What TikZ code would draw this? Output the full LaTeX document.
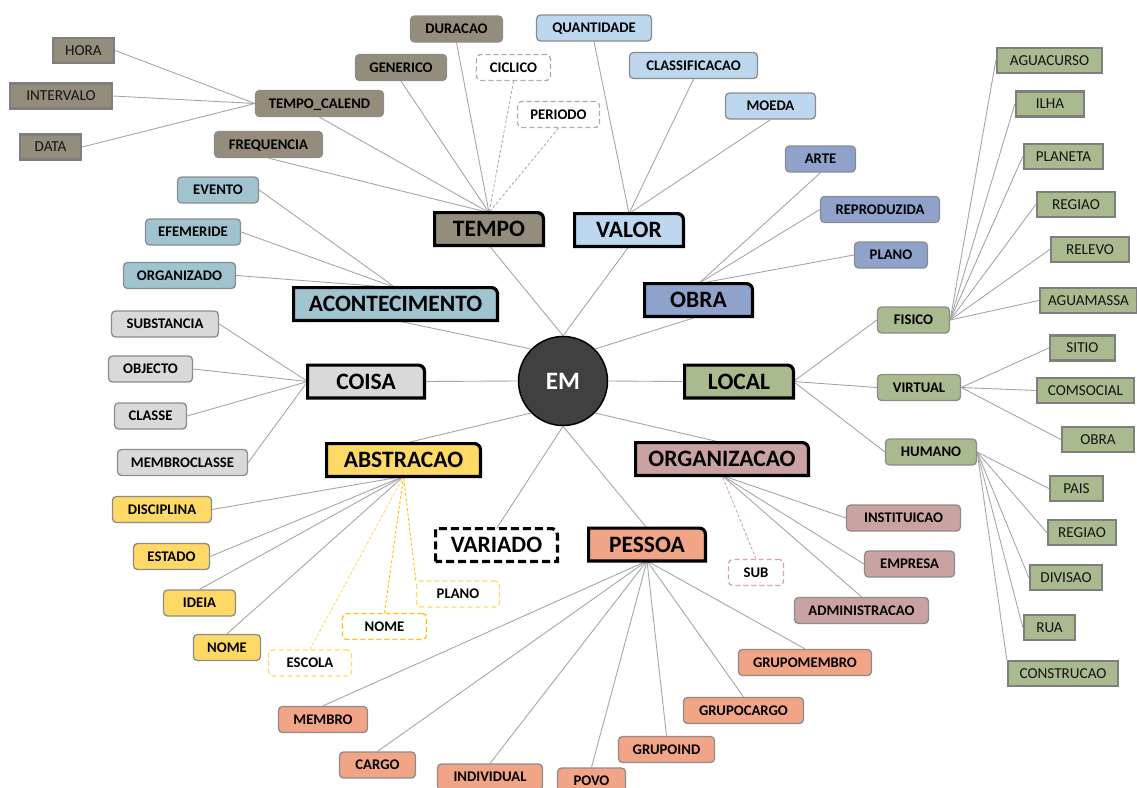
\documentclass[tikz,border=0pt]{standalone}
\usepackage{fontspec}
\setmainfont{Carlito}
\usetikzlibrary{backgrounds}

% category colours
\definecolor{tempoC}{HTML}{958D7B}
\definecolor{valorC}{HTML}{BDD7EE}
\definecolor{obraC}{HTML}{8FA2CC}
\definecolor{acontC}{HTML}{9FC4D0}
\definecolor{coisaC}{HTML}{D9D9D9}
\definecolor{abstrC}{HTML}{FFD966}
\definecolor{abstrD}{HTML}{FFC000}
\definecolor{pessoaC}{HTML}{F1A486}
\definecolor{organC}{HTML}{CAA2A2}
\definecolor{organD}{HTML}{D9A3A3}
\definecolor{localC}{HTML}{A9BA8F}
\definecolor{tempoD}{HTML}{B3AC98}
\definecolor{emC}{HTML}{404040}
\definecolor{linkC}{HTML}{A6A6A6}
\definecolor{subB}{HTML}{8C8C8C}
\definecolor{leafB}{HTML}{7F7F7F}

\tikzset{
  link/.style={draw=linkC, line width=0.9pt},
  optlink/.style={line width=0.9pt, dash pattern=on 3pt off 2pt},
  basebox/.style={inner sep=0pt, text=black, text height=9.3pt, text depth=0pt},
  sub/.style={basebox, rounded corners=4pt, draw=subB, line width=1.3pt,
    minimum height=26pt, font=\bfseries\fontsize{14.7}{16}\selectfont},
  leaf/.style={basebox, draw=leafB, line width=2.4pt, minimum height=25pt,
    font=\fontsize{15.2}{17}\selectfont, text=black!92},
  opt/.style={sub, fill=white, dash pattern=on 5pt off 3pt},
  cat/.style={inner sep=0pt, outer sep=0pt, minimum height=32.8pt,
    text height=15.1pt, text depth=0pt,
    font=\bfseries\fontsize{23.5}{26}\selectfont},
  catline/.style={draw=black, line width=3.2pt, line join=miter},
}

% box of a category: square corners except the rounded upper right one
\newcommand\catshape[2][]{%
  \draw[catline,#1] (#2.south west) -- (#2.north west)
    -- ([xshift=-6pt]#2.north east) arc[start angle=90,end angle=0,radius=6pt]
    -- (#2.south east) -- cycle;}

\begin{document}
\begin{tikzpicture}[x=1pt,y=1pt]
\useasboundingbox (0,0) rectangle (1137,-787);

% centre
\node[circle, fill=emC, draw=black, line width=1.5pt, minimum size=89pt,
  inner sep=0pt, text=white, font=\bfseries\fontsize{25}{28}\selectfont] (em) at (563,-381) {EM};

% categories
\node[cat, minimum width=108.8pt] (tempo)  at (489,-229)   {TEMPO};
\node[cat, minimum width=108.8pt] (valor)  at (629,-230)   {VALOR};
\node[cat, minimum width=107.8pt] (obra)   at (698.5,-300) {OBRA};
\node[cat, minimum width=203.8pt] (acont)  at (395.5,-304) {ACONTECIMENTO};
\node[cat, minimum width=116.8pt] (coisa)  at (366,-381.5) {COISA};
\node[cat, minimum width=108.8pt] (local)  at (739,-381.5) {LOCAL};
\node[cat, minimum width=153.8pt] (abstr)  at (403.5,-460) {ABSTRACAO};
\node[cat, minimum width=172.8pt] (organ)  at (722,-459)   {ORGANIZACAO};
\node[cat, minimum width=116.8pt] (pessoa) at (647,-544.5) {PESSOA};
\node[cat, minimum width=121.8pt] (variado) at (496.5,-545) {VARIADO};

% TEMPO
\node[leaf, fill=tempoC, minimum width=61pt]  (hora)      at (83.5,-50.5) {HORA};
\node[leaf, fill=tempoC, minimum width=102pt] (intervalo) at (61,-96)     {INTERVALO};
\node[leaf, fill=tempoC, minimum width=61pt]  (data)      at (50.5,-147)  {DATA};
\node[sub, fill=tempoC, minimum width=128pt] (tcal)  at (319.5,-103.5) {TEMPO\_CALEND};
\node[sub, fill=tempoC, minimum width=108pt] (freq)  at (268.5,-144.5) {FREQUENCIA};
\node[sub, fill=tempoC, minimum width=91pt]  (gener) at (401,-67.5)    {GENERICO};
\node[sub, fill=tempoC, minimum width=92pt]  (durac) at (456.5,-29)    {DURACAO};
\node[opt, draw=tempoD, minimum width=74pt]  (ciclico) at (513.5,-67.5) {CICLICO};
\node[opt, draw=tempoD, minimum width=82pt]  (periodo) at (558.5,-114.5) {PERIODO};

% VALOR
\node[sub, fill=valorC, minimum width=115pt] (quant)   at (594,-28)    {QUANTIDADE};
\node[sub, fill=valorC, minimum width=128pt] (classif) at (693.5,-65.5) {CLASSIFICACAO};
\node[sub, fill=valorC, minimum width=90pt]  (moeda)   at (770.5,-106) {MOEDA};

% OBRA
\node[sub, fill=obraC, minimum width=70pt]  (arte)   at (820.5,-159)  {ARTE};
\node[sub, fill=obraC, minimum width=119pt] (reprod) at (880,-209.5)  {REPRODUZIDA};
\node[sub, fill=obraC, minimum width=73pt]  (planoo) at (891,-255)    {PLANO};

% ACONTECIMENTO
\node[sub, fill=acontC, minimum width=81pt]  (evento)  at (218,-190)   {EVENTO};
\node[sub, fill=acontC, minimum width=95pt]  (efem)    at (193,-232)   {EFEMERIDE};
\node[sub, fill=acontC, minimum width=112pt] (organiz) at (179.5,-275.5) {ORGANIZADO};

% COISA
\node[sub, fill=coisaC, minimum width=107pt] (subst)    at (165,-324)   {SUBSTANCIA};
\node[sub, fill=coisaC, minimum width=84pt]  (objecto)  at (150.5,-369) {OBJECTO};
\node[sub, fill=coisaC, minimum width=72pt]  (classe)   at (150.5,-416) {CLASSE};
\node[sub, fill=coisaC, minimum width=130pt] (membrocl) at (182.5,-462.5) {MEMBROCLASSE};

% ABSTRACAO
\node[sub, fill=abstrC, minimum width=99pt] (discip) at (162,-509.5)  {DISCIPLINA};
\node[sub, fill=abstrC, minimum width=76pt] (estado) at (171.5,-556.5) {ESTADO};
\node[sub, fill=abstrC, minimum width=72pt] (ideia)  at (199.5,-603)  {IDEIA};
\node[sub, fill=abstrC, minimum width=67pt] (nomea)  at (227,-647.5)  {NOME};
\node[opt, draw=abstrC, minimum width=83pt] (escola) at (310,-663)    {ESCOLA};
\node[opt, draw=abstrD, minimum width=84pt] (nomeb)  at (384.5,-626.5) {NOME};
\node[opt, draw=abstrC, minimum width=83pt] (planoa) at (458,-594)    {PLANO};

% PESSOA
\node[sub, fill=pessoaC, minimum width=89pt]  (membro)   at (323,-719.5)   {MEMBRO};
\node[sub, fill=pessoaC, minimum width=76pt]  (cargo)    at (377.5,-765)   {CARGO};
\node[sub, fill=pessoaC, minimum width=105pt] (individ)  at (490,-777)     {INDIVIDUAL};
\node[sub, fill=pessoaC, minimum width=68pt]  (povo)     at (591.5,-781)   {POVO};
\node[sub, fill=pessoaC, minimum width=96pt]  (gind)     at (666.5,-749.5) {GRUPOIND};
\node[sub, fill=pessoaC, minimum width=120pt] (gcargo)   at (743.5,-710.5) {GRUPOCARGO};
\node[sub, fill=pessoaC, minimum width=133pt] (gmembro)  at (805,-662.5)   {GRUPOMEMBRO};

% ORGANIZACAO
\node[sub, fill=organC, minimum width=114pt] (instit)  at (903.5,-518)  {INSTITUICAO};
\node[sub, fill=organC, minimum width=90pt]  (empresa) at (909.5,-564)  {EMPRESA};
\node[sub, fill=organC, minimum width=134pt] (admin)   at (861.5,-610.5) {ADMINISTRACAO};
\node[opt, draw=organD, minimum width=55pt]  (subo)    at (756,-572.5)  {SUB};

% LOCAL
\node[sub, fill=localC, minimum width=72pt] (fisico)  at (913.5,-320)  {FISICO};
\node[sub, fill=localC, minimum width=83pt] (virtual) at (919,-387.5)  {VIRTUAL};
\node[sub, fill=localC, minimum width=91pt] (humano)  at (931,-452)    {HUMANO};
\node[leaf, fill=localC, minimum width=105pt] (aguac)   at (1049.5,-60.5) {AGUACURSO};
\node[leaf, fill=localC, minimum width=68pt]  (ilha)    at (1050,-104)    {ILHA};
\node[leaf, fill=localC, minimum width=79pt]  (planeta) at (1063.5,-156.5) {PLANETA};
\node[leaf, fill=localC, minimum width=78pt]  (regiaoa) at (1076,-204.5)  {REGIAO};
\node[leaf, fill=localC, minimum width=78pt]  (relevo)  at (1090,-249.5)  {RELEVO};
\node[leaf, fill=localC, minimum width=97pt]  (aguam)   at (1088.5,-300.5) {AGUAMASSA};
\node[leaf, fill=localC, minimum width=65pt]  (sitio)   at (1082.5,-348)  {SITIO};
\node[leaf, fill=localC, minimum width=97pt]  (comsoc)  at (1085.5,-390.5) {COMSOCIAL};
\node[leaf, fill=localC, minimum width=72pt]  (obral)   at (1098,-439.5)  {OBRA};
\node[leaf, fill=localC, minimum width=53pt]  (pais)    at (1076.5,-488.5) {PAIS};
\node[leaf, fill=localC, minimum width=68pt]  (regiaob) at (1082,-532.5)  {REGIAO};
\node[leaf, fill=localC, minimum width=72pt]  (divisao) at (1066,-577.5)  {DIVISAO};
\node[leaf, fill=localC, minimum width=51pt]  (rua)     at (1049.5,-627.5) {RUA};
\node[leaf, fill=localC, minimum width=110pt] (constr)  at (1063,-673.5)  {CONSTRUCAO};

\begin{scope}[on background layer]
  % centre to categories
  \draw[link] (tempo.south) -- (em.north);
  \draw[link] (valor.south) -- (em.north);
  \draw[link] (acont.south) -- (em.135);
  \draw[link] (obra.south) -- (em.45);
  \draw[link] (coisa.east) -- (em.west);
  \draw[link] (local.west) -- (em.east);
  \draw[link] (abstr.north) -- (em.225);
  \draw[link] (organ.north) -- (em.315);
  \draw[link] (variado.north) -- (em.south);
  \draw[link] (pessoa.north) -- (em.south);

  % TEMPO
  \draw[link] (hora.east) -- (tcal.west);
  \draw[link] (intervalo.east) -- (tcal.west);
  \draw[link] (data.east) -- (tcal.west);
  \foreach \n in {tcal,freq,gener,durac} \draw[link] (\n.south) -- (tempo.north);
  \draw[optlink, draw=tempoD] (ciclico.south) -- (tempo.north);
  \draw[optlink, draw=tempoD] (periodo.south) -- (tempo.north);

  % VALOR
  \foreach \n in {quant,classif,moeda} \draw[link] (\n.south) -- (valor.north);

  % OBRA
  \draw[link] (arte.south) -- (obra.north);
  \draw[link] (reprod.west) -- (obra.north);
  \draw[link] (planoo.west) -- (obra.north);

  % ACONTECIMENTO
  \foreach \n in {evento,efem,organiz} \draw[link] (\n.east) -- (acont.north);

  % COISA
  \foreach \n in {subst,objecto,classe,membrocl} \draw[link] (\n.east) -- (coisa.west);

  % ABSTRACAO
  \draw[link] (discip.east) -- (abstr.south);
  \draw[link] (estado.east) -- (abstr.south);
  \draw[link] (ideia.north) -- (abstr.south);
  \draw[link] (nomea.north) -- (abstr.south);
  \draw[optlink, draw=abstrC] (escola.north) -- (abstr.south);
  \draw[optlink, draw=abstrD] (nomeb.north) -- (abstr.south);
  \draw[optlink, draw=abstrD] (planoa.north west) -- (abstr.south);

  % PESSOA
  \foreach \n in {membro,cargo,individ,povo,gind,gcargo,gmembro} \draw[link] (\n.north) -- (pessoa.south);

  % ORGANIZACAO
  \draw[link] (instit.west) -- (organ.south);
  \draw[link] (empresa.west) -- (organ.south);
  \draw[link] (admin.north) -- (organ.south);
  \draw[optlink, draw=organD] (subo.north) -- (organ.south);

  % LOCAL
  \foreach \n in {fisico,virtual,humano} \draw[link] (\n.west) -- (local.east);
  \foreach \n in {aguac,ilha,planeta,regiaoa,relevo,aguam} \draw[link] (\n.west) -- (fisico.east);
  \foreach \n in {sitio,comsoc,obral} \draw[link] (\n.west) -- (virtual.east);
  \foreach \n in {pais,regiaob,divisao,rua} \draw[link] (\n.west) -- (humano.east);
  \draw[link] (constr.north west) -- (humano.east);

  % category boxes
  \catshape[fill=tempoC]{tempo}
  \catshape[fill=valorC]{valor}
  \catshape[fill=obraC]{obra}
  \catshape[fill=acontC]{acont}
  \catshape[fill=coisaC]{coisa}
  \catshape[fill=localC]{local}
  \catshape[fill=abstrC]{abstr}
  \catshape[fill=organC]{organ}
  \catshape[fill=pessoaC]{pessoa}
  \catshape[fill=white, dash pattern=on 8pt off 4pt]{variado}
\end{scope}
\end{tikzpicture}
\end{document}
